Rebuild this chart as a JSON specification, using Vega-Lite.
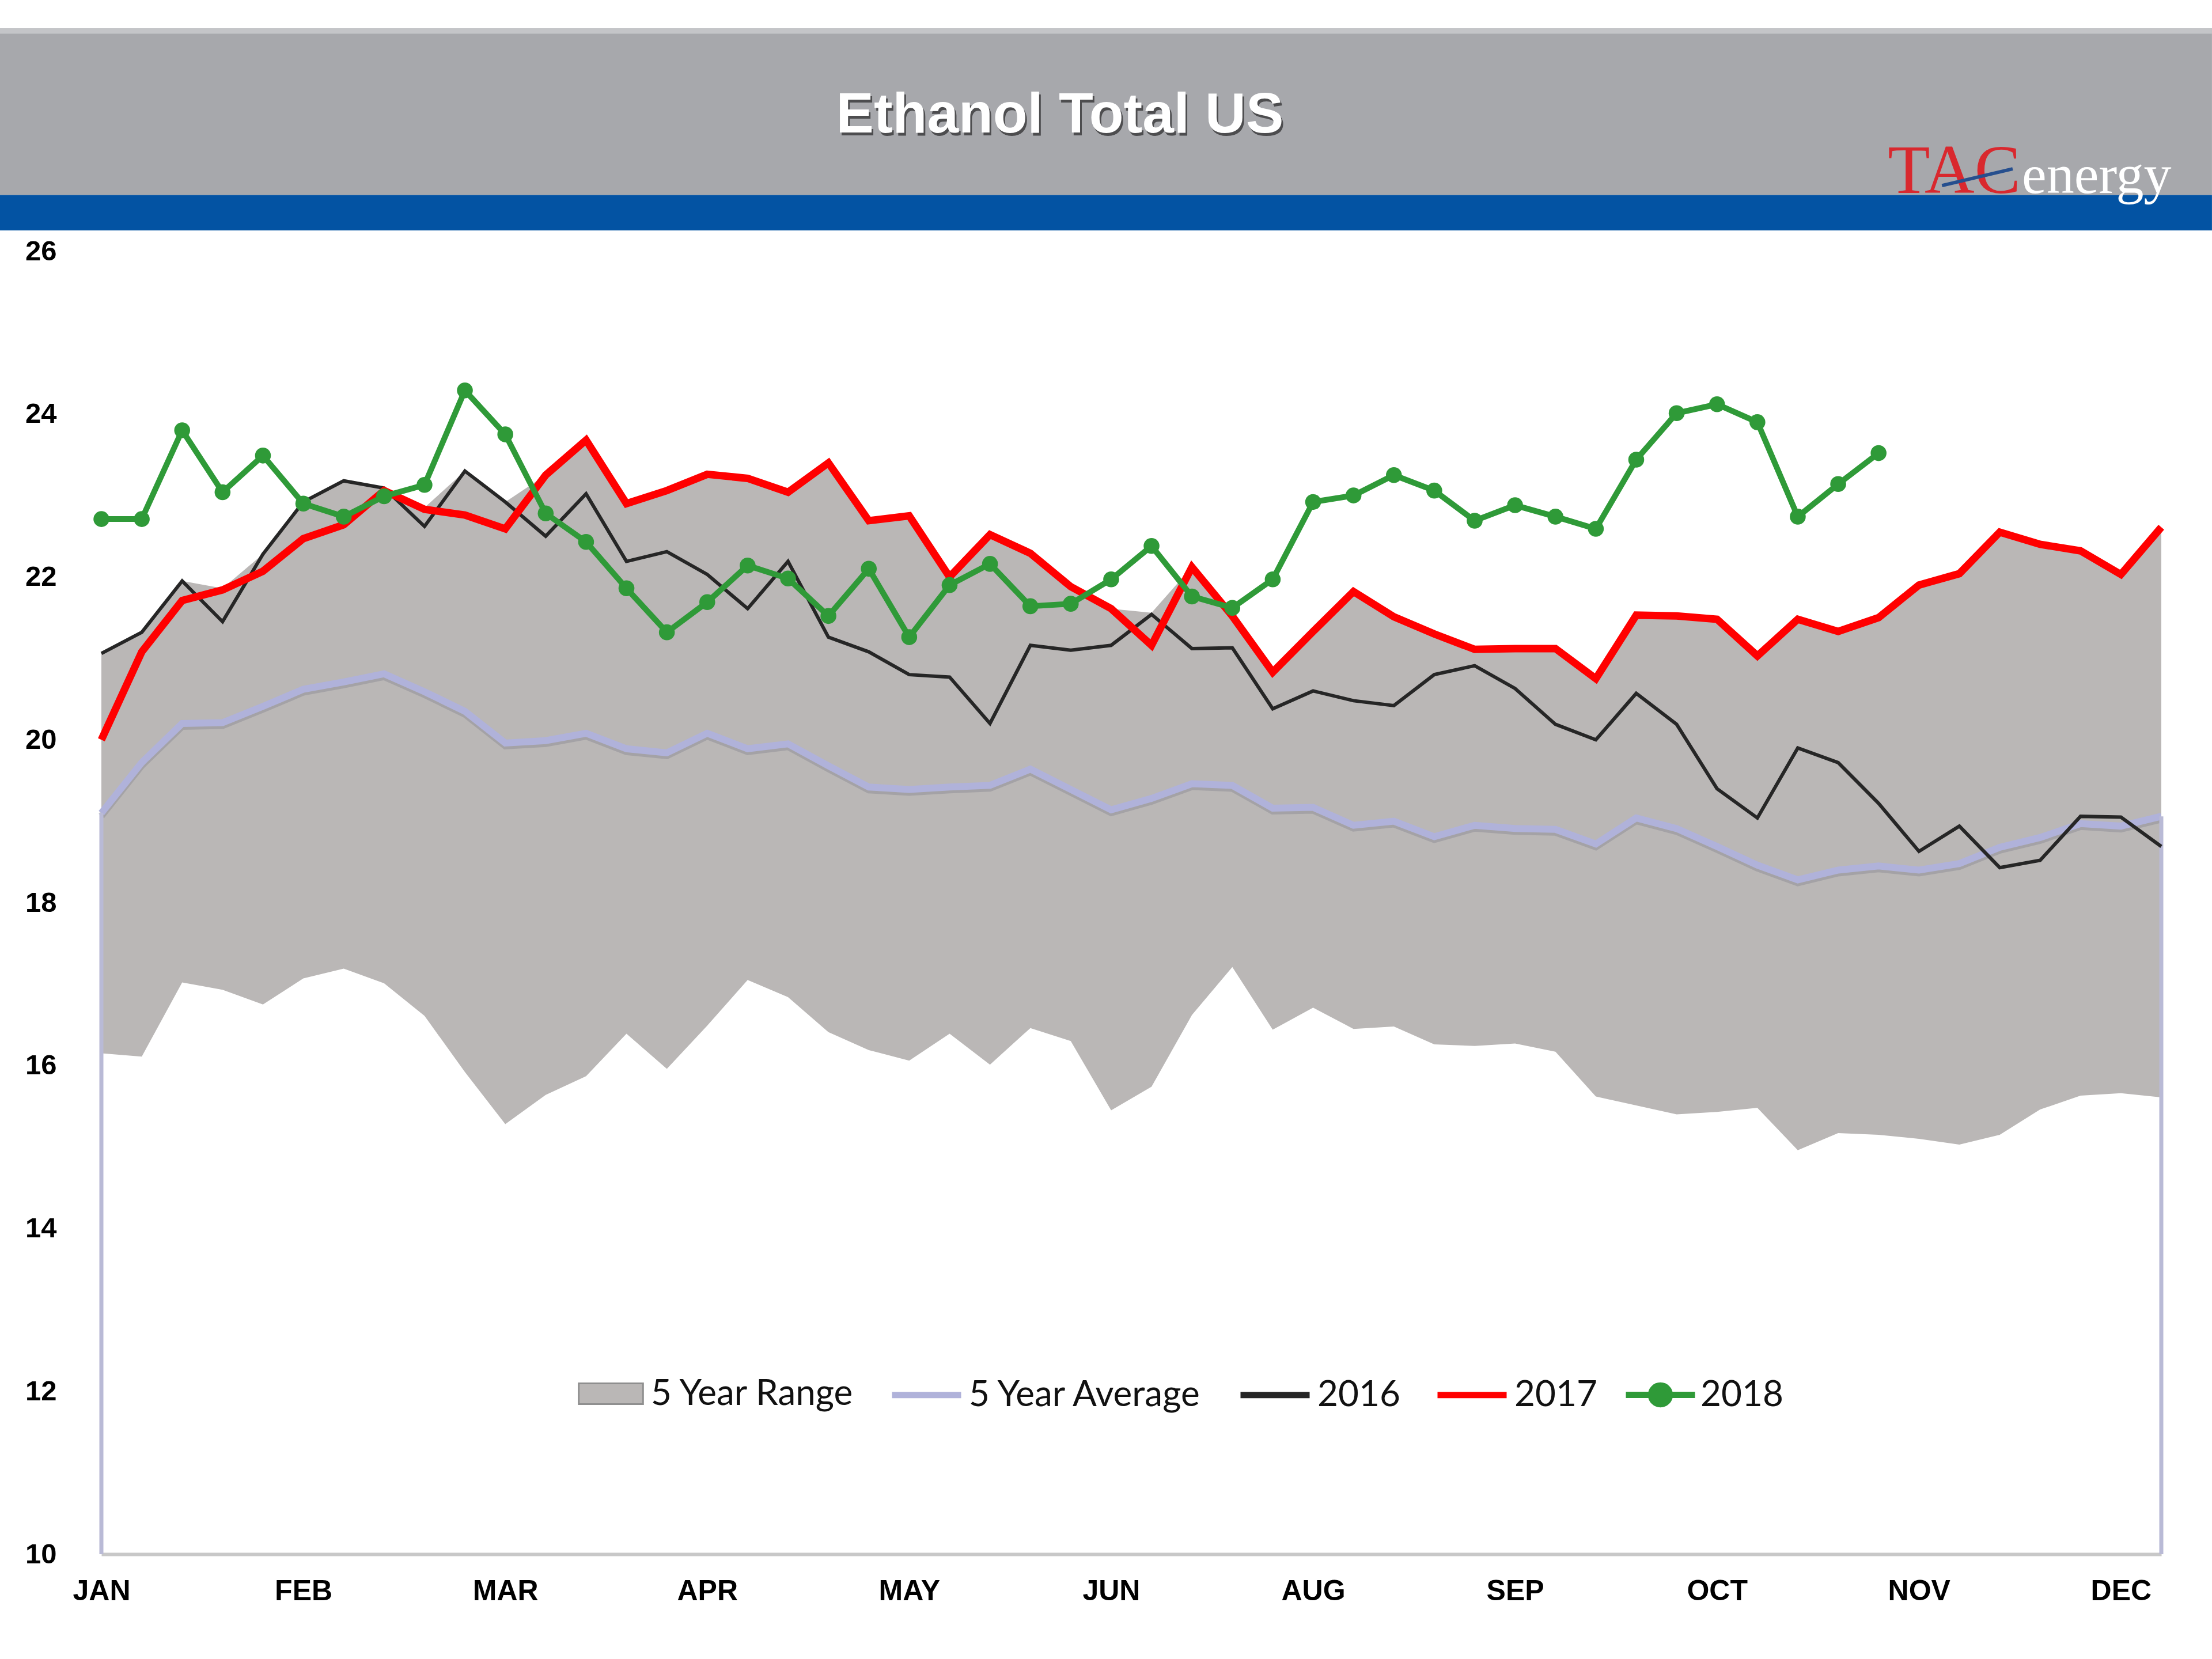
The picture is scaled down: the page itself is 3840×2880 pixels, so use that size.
{
  "$schema": "https://vega.github.io/schema/vega-lite/v6.json",
  "width": 3576,
  "height": 2262,
  "padding": {"left": 0, "right": 0, "top": 49, "bottom": 60},
  "background": "white",
  "config": {"font": "Liberation Sans", "view": {"stroke": null},
    "legend": {"symbolSize": 14400, "labelFont": "Lato", "labelFontSize": 62, "labelColor": "#111111",
      "labelLimit": 0, "labelOffset": 8, "columnPadding": 68, "title": null}},
  "data": {"values": [
    {"week": 1, "lo": 16.15, "hi": 21.06, "avg": 19.10, "y2016": 21.06, "y2017": 20.00, "y2018": 22.71},
    {"week": 2, "lo": 16.11, "hi": 21.32, "avg": 19.72, "y2016": 21.32, "y2017": 21.08, "y2018": 22.71},
    {"week": 3, "lo": 17.02, "hi": 21.95, "avg": 20.20, "y2016": 21.95, "y2017": 21.71, "y2018": 23.80},
    {"week": 4, "lo": 16.93, "hi": 21.86, "avg": 20.21, "y2016": 21.45, "y2017": 21.84, "y2018": 23.04},
    {"week": 5, "lo": 16.75, "hi": 22.28, "avg": 20.41, "y2016": 22.28, "y2017": 22.07, "y2018": 23.49},
    {"week": 6, "lo": 17.07, "hi": 22.92, "avg": 20.62, "y2016": 22.92, "y2017": 22.47, "y2018": 22.90},
    {"week": 7, "lo": 17.19, "hi": 23.18, "avg": 20.71, "y2016": 23.18, "y2017": 22.64, "y2018": 22.74},
    {"week": 8, "lo": 17.01, "hi": 23.09, "avg": 20.81, "y2016": 23.09, "y2017": 23.06, "y2018": 22.99},
    {"week": 9, "lo": 16.61, "hi": 22.85, "avg": 20.59, "y2016": 22.62, "y2017": 22.83, "y2018": 23.13},
    {"week": 10, "lo": 15.92, "hi": 23.30, "avg": 20.35, "y2016": 23.30, "y2017": 22.76, "y2018": 24.29},
    {"week": 11, "lo": 15.28, "hi": 22.92, "avg": 19.96, "y2016": 22.92, "y2017": 22.59, "y2018": 23.75},
    {"week": 12, "lo": 15.64, "hi": 23.25, "avg": 19.99, "y2016": 22.50, "y2017": 23.25, "y2018": 22.78},
    {"week": 13, "lo": 15.87, "hi": 23.68, "avg": 20.08, "y2016": 23.02, "y2017": 23.68, "y2018": 22.43},
    {"week": 14, "lo": 16.39, "hi": 22.90, "avg": 19.89, "y2016": 22.19, "y2017": 22.90, "y2018": 21.86},
    {"week": 15, "lo": 15.96, "hi": 23.06, "avg": 19.84, "y2016": 22.31, "y2017": 23.06, "y2018": 21.32},
    {"week": 16, "lo": 16.49, "hi": 23.26, "avg": 20.08, "y2016": 22.03, "y2017": 23.26, "y2018": 21.69},
    {"week": 17, "lo": 17.05, "hi": 23.21, "avg": 19.89, "y2016": 21.61, "y2017": 23.21, "y2018": 22.14},
    {"week": 18, "lo": 16.84, "hi": 23.04, "avg": 19.95, "y2016": 22.19, "y2017": 23.04, "y2018": 21.98},
    {"week": 19, "lo": 16.41, "hi": 23.40, "avg": 19.68, "y2016": 21.26, "y2017": 23.40, "y2018": 21.52},
    {"week": 20, "lo": 16.19, "hi": 22.69, "avg": 19.42, "y2016": 21.08, "y2017": 22.69, "y2018": 22.10},
    {"week": 21, "lo": 16.06, "hi": 22.75, "avg": 19.39, "y2016": 20.80, "y2017": 22.75, "y2018": 21.26},
    {"week": 22, "lo": 16.39, "hi": 22.00, "avg": 19.42, "y2016": 20.77, "y2017": 22.00, "y2018": 21.90},
    {"week": 23, "lo": 16.01, "hi": 22.52, "avg": 19.44, "y2016": 20.20, "y2017": 22.52, "y2018": 22.16},
    {"week": 24, "lo": 16.46, "hi": 22.29, "avg": 19.64, "y2016": 21.16, "y2017": 22.29, "y2018": 21.64},
    {"week": 25, "lo": 16.30, "hi": 21.88, "avg": 19.39, "y2016": 21.10, "y2017": 21.88, "y2018": 21.67},
    {"week": 26, "lo": 15.45, "hi": 21.61, "avg": 19.14, "y2016": 21.16, "y2017": 21.61, "y2018": 21.97},
    {"week": 27, "lo": 15.74, "hi": 21.56, "avg": 19.28, "y2016": 21.54, "y2017": 21.16, "y2018": 22.38},
    {"week": 28, "lo": 16.62, "hi": 22.12, "avg": 19.46, "y2016": 21.12, "y2017": 22.12, "y2018": 21.76},
    {"week": 29, "lo": 17.21, "hi": 21.52, "avg": 19.44, "y2016": 21.13, "y2017": 21.52, "y2018": 21.62},
    {"week": 30, "lo": 16.44, "hi": 20.83, "avg": 19.16, "y2016": 20.38, "y2017": 20.83, "y2018": 21.97},
    {"week": 31, "lo": 16.71, "hi": 21.33, "avg": 19.17, "y2016": 20.60, "y2017": 21.33, "y2018": 22.92},
    {"week": 32, "lo": 16.45, "hi": 21.82, "avg": 18.95, "y2016": 20.48, "y2017": 21.82, "y2018": 23.00},
    {"week": 33, "lo": 16.48, "hi": 21.51, "avg": 19.00, "y2016": 20.42, "y2017": 21.51, "y2018": 23.25},
    {"week": 34, "lo": 16.26, "hi": 21.30, "avg": 18.81, "y2016": 20.80, "y2017": 21.30, "y2018": 23.06},
    {"week": 35, "lo": 16.24, "hi": 21.11, "avg": 18.95, "y2016": 20.91, "y2017": 21.11, "y2018": 22.69},
    {"week": 36, "lo": 16.27, "hi": 21.12, "avg": 18.91, "y2016": 20.63, "y2017": 21.12, "y2018": 22.88},
    {"week": 37, "lo": 16.17, "hi": 21.12, "avg": 18.90, "y2016": 20.19, "y2017": 21.12, "y2018": 22.74},
    {"week": 38, "lo": 15.62, "hi": 20.75, "avg": 18.72, "y2016": 20.00, "y2017": 20.75, "y2018": 22.59},
    {"week": 39, "lo": 15.51, "hi": 21.53, "avg": 19.04, "y2016": 20.57, "y2017": 21.53, "y2018": 23.44},
    {"week": 40, "lo": 15.40, "hi": 21.52, "avg": 18.91, "y2016": 20.19, "y2017": 21.52, "y2018": 24.01},
    {"week": 41, "lo": 15.43, "hi": 21.48, "avg": 18.69, "y2016": 19.40, "y2017": 21.48, "y2018": 24.12},
    {"week": 42, "lo": 15.48, "hi": 21.03, "avg": 18.46, "y2016": 19.04, "y2017": 21.03, "y2018": 23.90},
    {"week": 43, "lo": 14.96, "hi": 21.48, "avg": 18.28, "y2016": 19.90, "y2017": 21.48, "y2018": 22.74},
    {"week": 44, "lo": 15.17, "hi": 21.33, "avg": 18.40, "y2016": 19.72, "y2017": 21.33, "y2018": 23.14},
    {"week": 45, "lo": 15.15, "hi": 21.50, "avg": 18.45, "y2016": 19.22, "y2017": 21.50, "y2018": 23.52},
    {"week": 46, "lo": 15.10, "hi": 21.90, "avg": 18.40, "y2016": 18.63, "y2017": 21.90},
    {"week": 47, "lo": 15.03, "hi": 22.04, "avg": 18.48, "y2016": 18.94, "y2017": 22.04},
    {"week": 48, "lo": 15.15, "hi": 22.55, "avg": 18.68, "y2016": 18.43, "y2017": 22.55},
    {"week": 49, "lo": 15.46, "hi": 22.40, "avg": 18.80, "y2016": 18.52, "y2017": 22.40},
    {"week": 50, "lo": 15.63, "hi": 22.32, "avg": 18.97, "y2016": 19.06, "y2017": 22.32},
    {"week": 51, "lo": 15.66, "hi": 22.03, "avg": 18.94, "y2016": 19.05, "y2017": 22.03},
    {"week": 52, "lo": 15.61, "hi": 22.61, "avg": 19.06, "y2016": 18.69, "y2017": 22.61}
  ]},
  "layer": [
    {
      "mark": {"type": "area", "opacity": 1},
      "encoding": {
        "x": {"field": "week", "type": "quantitative",
          "scale": {"domain": [1, 52], "nice": false, "zero": false},
          "axis": {"values": [1, 6, 11, 16, 21, 26, 31, 36, 41, 46, 51],
            "labelExpr": "['JAN','FEB','MAR','APR','MAY','JUN','AUG','SEP','OCT','NOV','DEC'][(datum.value-1)/5]",
            "title": null, "grid": false, "ticks": false, "tickSize": 0,
            "domainColor": "#c8c8c8", "domainWidth": 6,
            "labelFontSize": 50, "labelFontWeight": "bold", "labelColor": "#000000",
            "labelPadding": 39, "labelFlush": false, "labelOverlap": false}},
        "y": {"field": "lo", "type": "quantitative",
          "scale": {"domain": [10, 26], "nice": false, "zero": false},
          "axis": {"values": [10, 12, 14, 16, 18, 20, 22, 24, 26], "format": "d", "title": null, "grid": false,
            "ticks": false, "tickSize": 0, "domain": false,
            "labelFontSize": 49, "labelFontWeight": "bold", "labelColor": "#000000",
            "labelPadding": 78, "labelFlush": false}},
        "y2": {"field": "hi"},
        "fill": {"datum": "5 Year Range", "type": "nominal",
          "scale": {"domain": ["5 Year Range"], "range": ["#bab7b6"]},
          "legend": {"orient": "none", "direction": "horizontal", "legendX": 823, "legendY": 1922,
            "symbolType": "M-0.93,-0.3L0.93,-0.3L0.93,0.3L-0.93,0.3Z",
            "symbolStrokeColor": "#8f8f8f", "symbolStrokeWidth": 3}}
      }
    },
    {
      "mark": {"type": "line", "color": "#8a8a92", "opacity": 0.45, "strokeWidth": 12, "yOffset": 5},
      "encoding": {"x": {"field": "week", "type": "quantitative"}, "y": {"field": "avg", "type": "quantitative"}}
    },
    {
      "mark": {"type": "line", "strokeWidth": 12},
      "encoding": {"x": {"field": "week", "type": "quantitative"}, "y": {"field": "avg", "type": "quantitative"},
        "stroke": {"datum": "5 Year Average", "type": "nominal",
          "scale": {"domain": ["5 Year Average", "2016", "2017"], "range": ["#b0b2da", "#262626", "#ff0000"]},
          "legend": {"orient": "none", "direction": "horizontal", "legendX": 1367, "legendY": 1920,
            "columnPadding": 42, "symbolType": "stroke", "symbolStrokeWidth": 11}}}
    },
    {
      "transform": [{"filter": "datum.week == 1 || datum.week == 52"}],
      "mark": {"type": "rule", "color": "#b9bad6", "strokeWidth": 7},
      "encoding": {"x": {"field": "week", "type": "quantitative"}, "y": {"field": "avg", "type": "quantitative"}, "y2": {"datum": 10}}
    },
    {
      "mark": {"type": "line", "strokeWidth": 6},
      "encoding": {"x": {"field": "week", "type": "quantitative"}, "y": {"field": "y2016", "type": "quantitative"},
        "stroke": {"datum": "2016", "type": "nominal"}}
    },
    {
      "mark": {"type": "line", "strokeWidth": 13},
      "encoding": {"x": {"field": "week", "type": "quantitative"}, "y": {"field": "y2017", "type": "quantitative"},
        "stroke": {"datum": "2017", "type": "nominal"}}
    },
    {
      "mark": {"type": "line", "strokeWidth": 10, "point": {"filled": true, "size": 760, "opacity": 1}},
      "encoding": {"x": {"field": "week", "type": "quantitative"}, "y": {"field": "y2018", "type": "quantitative"},
        "color": {"datum": "2018", "type": "nominal",
          "scale": {"domain": ["2018"], "range": ["#2f9a38"]},
          "legend": {"orient": "none", "direction": "horizontal", "legendX": 2641, "legendY": 1920,
            "symbolType": "M-1,0L1,0M-0.27,0A0.27,0.27,0,1,0,0.27,0A0.27,0.27,0,1,0,-0.27,0",
            "symbolStrokeWidth": 11, "labelOffset": 4}}}
    },
    {
      "data": {"values": [{}]},
      "mark": {"type": "rect", "color": "#a7a8ac", "clip": false},
      "encoding": {"x": {"datum": -1.51}, "x2": {"datum": 53.254}, "y": {"datum": 28.737}, "y2": {"datum": 26.69}}
    },
    {
      "data": {"values": [{}]},
      "mark": {"type": "rect", "color": "#c4c5c8", "clip": false},
      "encoding": {"x": {"datum": -1.51}, "x2": {"datum": 53.254}, "y": {"datum": 28.737}, "y2": {"datum": 28.67}}
    },
    {
      "data": {"values": [{}]},
      "mark": {"type": "rect", "color": "#0353a3", "clip": false},
      "encoding": {"x": {"datum": -1.51}, "x2": {"datum": 53.254}, "y": {"datum": 26.69}, "y2": {"datum": 26.255}}
    },
    {
      "data": {"values": [{"t": "Ethanol Total US"}]},
      "mark": {"type": "text", "font": "Liberation Sans", "fontWeight": "bold", "fontSize": 98, "color": "#4d4d4f", "align": "center", "baseline": "alphabetic", "dx": 3, "dy": 5, "clip": false},
      "encoding": {"x": {"datum": 24.73}, "y": {"datum": 27.457}, "text": {"field": "t"}}
    },
    {
      "data": {"values": [{"t": "Ethanol Total US"}]},
      "mark": {"type": "text", "font": "Liberation Sans", "fontWeight": "bold", "fontSize": 98, "color": "#ffffff", "align": "center", "baseline": "alphabetic", "clip": false},
      "encoding": {"x": {"datum": 24.73}, "y": {"datum": 27.457}, "text": {"field": "t"}}
    },
    {
      "data": {"values": [{"t": "TAC"}]},
      "mark": {"type": "text", "font": "Liberation Serif", "fontSize": 120, "color": "#d9282e", "align": "left", "baseline": "alphabetic", "clip": false},
      "encoding": {"x": {"datum": 45.23}, "y": {"datum": 26.714}, "text": {"field": "t"}}
    },
    {
      "data": {"values": [{"t": "energy"}]},
      "mark": {"type": "text", "font": "Liberation Serif", "fontSize": 96, "color": "#ffffff", "align": "left", "baseline": "alphabetic", "clip": false},
      "encoding": {"x": {"datum": 48.55}, "y": {"datum": 26.714}, "text": {"field": "t"}}
    },
    {
      "data": {"values": [{}]},
      "mark": {"type": "rule", "color": "#264f8e", "strokeWidth": 6, "clip": false},
      "encoding": {"x": {"datum": 46.57}, "x2": {"datum": 48.32}, "y": {"datum": 26.806}, "y2": {"datum": 27.011}}
    }
  ]
}
